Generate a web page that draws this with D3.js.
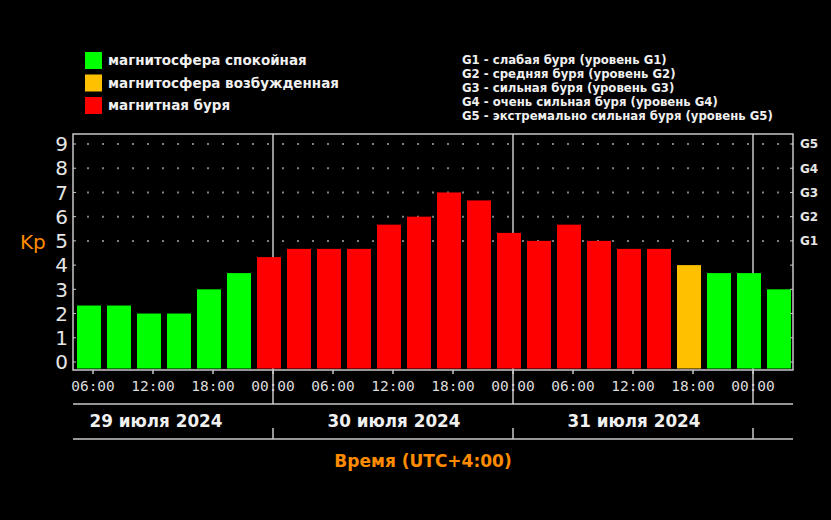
<!DOCTYPE html>
<html>
<head>
<meta charset="utf-8">
<script src="https://cdn.jsdelivr.net/npm/d3@7"></script>
<style>
  html, body { margin: 0; padding: 0; background: #000; }
  svg { display: block; }
</style>
</head>
<body>
<div id="chart"></div>
<script>
// Kp index, 3-hour intervals (UTC+4), starting 29.07.2024 04:00
const kpValues = [2.33, 2.33, 2.0, 2.0, 3.0, 3.67, 4.33, 4.67,
                  4.67, 4.67, 5.67, 6.0, 7.0, 6.67, 5.33, 5.0,
                  5.67, 5.0, 4.67, 4.67, 4.0, 3.67, 3.67, 3.0];
const kpStatus = ['quiet', 'quiet', 'quiet', 'quiet', 'quiet', 'quiet', 'storm', 'storm',
                  'storm', 'storm', 'storm', 'storm', 'storm', 'storm', 'storm', 'storm',
                  'storm', 'storm', 'storm', 'storm', 'active', 'quiet', 'quiet', 'quiet'];
const legendLabels = ['магнитосфера спокойная', 'магнитосфера возбужденная', 'магнитная буря'];
const legendKeys = ['quiet', 'active', 'storm'];
const stormLevels = ['G1', 'G2', 'G3', 'G4', 'G5'];
const stormNotes = [
    'G1 - слабая буря (уровень G1)',
    'G2 - средняя буря (уровень G2)',
    'G3 - сильная буря (уровень G3)',
    'G4 - очень сильная буря (уровень G4)',
    'G5 - экстремально сильная буря (уровень G5)'
];
const dayLabels = ['29 июля 2024', '30 июля 2024', '31 июля 2024'];
const yTicks = [0, 1, 2, 3, 4, 5, 6, 7, 8, 9];

const colors = { quiet: '#00ff00', active: '#ffc000', storm: '#ff0000' };
const orange = '#ff8c00';
const frameColor = '#c8c8c8';

const width = 831, height = 520;
const frame = { left: 73, right: 793, top: 134, bottom: 370 };

const svg = d3.select('#chart').append('svg')
    .attr('width', width)
    .attr('height', height)
    .style('background', '#000');

const t0 = new Date(2024, 6, 29, 4);
const t1 = new Date(2024, 7, 1, 4);
const x = d3.scaleTime().domain([t0, t1]).range([frame.left, frame.right]);
const y = d3.scaleLinear().domain([0, 9]).range([362, 144]);

const bars = kpValues.map((v, i) => ({
    start: d3.timeHour.offset(t0, 3 * i),
    end: d3.timeHour.offset(t0, 3 * (i + 1)),
    value: v,
    status: kpStatus[i]
}));

// dotted grid for storm levels
svg.append('g').selectAll('line')
    .data(d3.range(5, 10))
    .enter().append('line')
    .attr('x1', frame.left + 14).attr('x2', frame.right)
    .attr('y1', d => y(d)).attr('y2', d => y(d))
    .attr('stroke', '#808080')
    .attr('stroke-width', 2)
    .attr('stroke-dasharray', '2 13');

// day separators
const midnights = d3.timeDay.range(d3.timeHour.offset(t0, 1), t1);
svg.append('g').selectAll('line')
    .data(midnights)
    .enter().append('line')
    .attr('x1', d => x(d)).attr('x2', d => x(d))
    .attr('y1', frame.top).attr('y2', 404)
    .attr('stroke', frameColor)
    .attr('stroke-width', 1.5);
svg.append('g').selectAll('line')
    .data(midnights)
    .enter().append('line')
    .attr('x1', d => x(d)).attr('x2', d => x(d))
    .attr('y1', 428).attr('y2', 439)
    .attr('stroke', frameColor)
    .attr('stroke-width', 1.5);

// bars
svg.append('g').selectAll('rect')
    .data(bars)
    .enter().append('rect')
    .attr('x', d => x(d.start) + 4)
    .attr('width', d => x(d.end) - x(d.start) - 6)
    .attr('y', d => y(d.value))
    .attr('height', d => frame.bottom - 1.5 - y(d.value))
    .attr('fill', d => colors[d.status]);

// frame
svg.append('rect')
    .attr('x', frame.left).attr('y', frame.top)
    .attr('width', frame.right - frame.left)
    .attr('height', frame.bottom - frame.top)
    .attr('fill', 'none')
    .attr('stroke', frameColor)
    .attr('stroke-width', 1.5);

// y axis: small inside ticks and labels
yTicks.forEach(k => {
    svg.append('line')
        .attr('x1', frame.left).attr('x2', frame.left + 3)
        .attr('y1', y(k)).attr('y2', y(k))
        .attr('stroke', frameColor);
    svg.append('line')
        .attr('x1', frame.right - 3).attr('x2', frame.right)
        .attr('y1', y(k)).attr('y2', y(k))
        .attr('stroke', frameColor);
});
svg.append('g').selectAll('text')
    .data(yTicks)
    .enter().append('text')
    .attr('x', 68)
    .attr('y', d => y(d))
    .attr('dy', '0.36em')
    .attr('text-anchor', 'end')
    .attr('fill', '#e6e6e6')
    .style('font', '20px "DejaVu Sans", sans-serif')
    .text(d => d);

svg.append('g').selectAll('text')
    .data(stormLevels)
    .enter().append('text')
    .attr('x', 800)
    .attr('y', (d, i) => y(5 + i))
    .attr('dy', '0.36em')
    .attr('fill', '#e6e6e6')
    .style('font', 'bold 12px "DejaVu Sans", sans-serif')
    .text(d => d);

svg.append('text')
    .attr('x', 20).attr('y', 249)
    .attr('fill', orange)
    .style('font', '20px "DejaVu Sans", sans-serif')
    .text('Kp');

// x axis: ticks every 6 hours
const hourTicks = d3.timeHour.every(6).range(t0, t1);
svg.append('g').selectAll('line')
    .data(hourTicks)
    .enter().append('line')
    .attr('x1', d => x(d)).attr('x2', d => x(d))
    .attr('y1', frame.bottom).attr('y2', frame.bottom + 4)
    .attr('stroke', frameColor)
    .attr('stroke-width', 1.5);
svg.append('g').selectAll('text')
    .data(hourTicks)
    .enter().append('text')
    .attr('x', d => x(d))
    .attr('y', 386)
    .attr('dy', '0.36em')
    .attr('text-anchor', 'middle')
    .attr('fill', '#dcdcdc')
    .style('font', '14.5px "DejaVu Sans Mono", monospace')
    .text(d => d3.timeFormat('%H:%M')(d));

// date row
[404, 439].forEach(yy => {
    svg.append('line')
        .attr('x1', frame.left).attr('x2', frame.right)
        .attr('y1', yy).attr('y2', yy)
        .attr('stroke', frameColor)
        .attr('stroke-width', 1.5);
});
const noons = d3.timeDay.range(new Date(2024, 6, 29), new Date(2024, 7, 1))
    .map(d => d3.timeHour.offset(d, 12));
svg.append('g').selectAll('text')
    .data(dayLabels)
    .enter().append('text')
    .attr('x', (d, i) => x(noons[i]) + (i === 0 ? 3 : 1))
    .attr('y', 421)
    .attr('dy', '0.36em')
    .attr('text-anchor', 'middle')
    .attr('fill', '#f0f0f0')
    .style('font', 'bold 16.8px "DejaVu Sans", sans-serif')
    .text(d => d);

svg.append('text')
    .attr('x', 423).attr('y', 461)
    .attr('dy', '0.36em')
    .attr('text-anchor', 'middle')
    .attr('fill', orange)
    .style('font', 'bold 17px "DejaVu Sans", sans-serif')
    .text('Время (UTC+4:00)');

// legend (left)
const legend = svg.append('g').attr('transform', 'translate(85, 52)');
legendKeys.forEach((key, i) => {
    const row = legend.append('g').attr('transform', `translate(0, ${i * 22.5})`);
    row.append('rect')
        .attr('width', 17).attr('height', 17)
        .attr('fill', colors[key]);
    row.append('text')
        .attr('x', 23).attr('y', 8.5)
        .attr('dy', '0.36em')
        .attr('fill', '#f0f0f0')
        .style('font', 'bold 13.5px "DejaVu Sans", sans-serif')
        .text(legendLabels[i]);
});

// storm level notes (right)
svg.append('g').selectAll('text')
    .data(stormNotes)
    .enter().append('text')
    .attr('x', 462)
    .attr('y', (d, i) => 60 + i * 14)
    .attr('dy', '0.36em')
    .attr('fill', '#f0f0f0')
    .style('font', 'bold 11.7px "DejaVu Sans", sans-serif')
    .text(d => d);
</script>
</body>
</html>
